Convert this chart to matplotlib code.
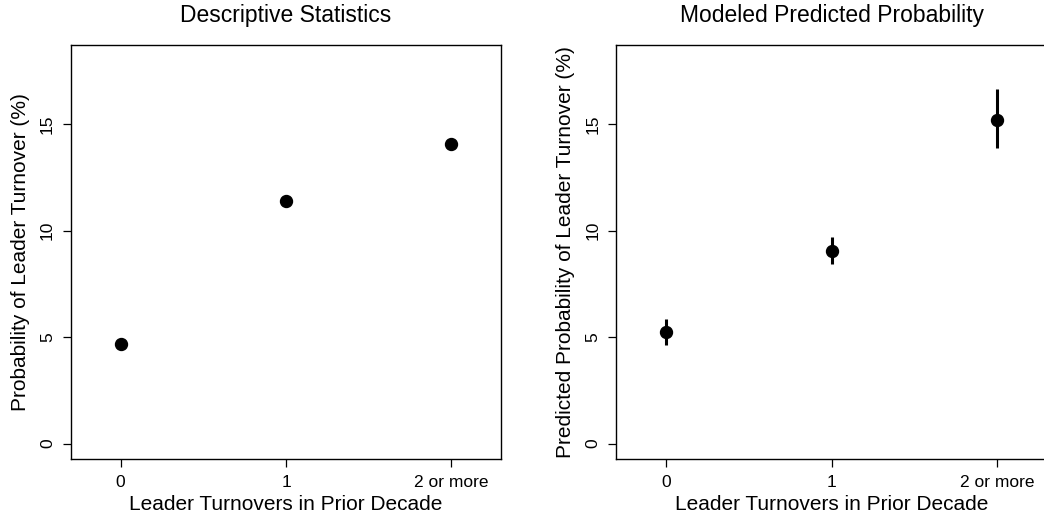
import matplotlib
matplotlib.use("Agg")
import matplotlib.pyplot as plt

plt.rcParams['font.family'] = ['Liberation Sans', 'DejaVu Sans']

categories = ["0", "1", "2 or more"]
positions = [0, 1, 2]
desc_values = [4.69, 11.41, 14.09]
pred_values = [5.22, 9.05, 15.20]
pred_lower = [4.63, 8.42, 13.86]
pred_upper = [5.87, 9.70, 16.67]
y_ticks = [0, 5, 10, 15]

W, H = 1044, 518
fig = plt.figure(figsize=(W / 100, H / 100), dpi=100)

def px_axes(x0, x1, y0, y1):
    return fig.add_axes([x0 / W, (H - y1) / H, (x1 - x0) / W, (y1 - y0) / H])

ax1 = px_axes(71, 501, 45, 459)
ax2 = px_axes(616.3, 1047, 45, 459)

def style(ax, title, ylabel, ylab_x):
    ax.set_xlim(-0.3, 2.3)
    ax.set_ylim(-0.72, 18.72)
    ax.set_xticks(positions)
    ax.set_xticklabels(categories, fontsize=12.5)
    ax.set_yticks(y_ticks)
    ax.set_yticklabels([str(t) for t in y_ticks], fontsize=12.5, rotation=90, va='center')
    ax.tick_params(axis='x', direction='out', length=5.5, width=0.9, pad=6)
    ax.tick_params(axis='y', direction='out', length=5.5, width=0.9, pad=6)
    for s in ax.spines.values():
        s.set_linewidth(1.0)
        s.set_color('black')
    ax.set_xlabel("Leader Turnovers in Prior Decade", fontsize=15, va='center')
    ax.xaxis.set_label_coords(0.5, -0.111)
    ax.set_ylabel(ylabel, fontsize=15, va='center', ha='center')
    ax.yaxis.set_label_coords(ylab_x, 0.5)
    ax.text(0.5, 1.072, title, transform=ax.transAxes, ha='center', va='center', fontsize=16.5)

style(ax1, "Descriptive Statistics", "Probability of Leader Turnover (%)", -0.1186)
ax1.plot(positions, desc_values, 'o', color='black', markersize=8.6, linestyle='none')

style(ax2, "Modeled Predicted Probability", "Predicted Probability of Leader Turnover (%)", -0.117)
ax2.vlines(positions, pred_lower, pred_upper, color='black', linewidth=2.2)
ax2.plot(positions, pred_values, 'o', color='black', markersize=8.6, linestyle='none')

fig.savefig("out.png", dpi=100)
